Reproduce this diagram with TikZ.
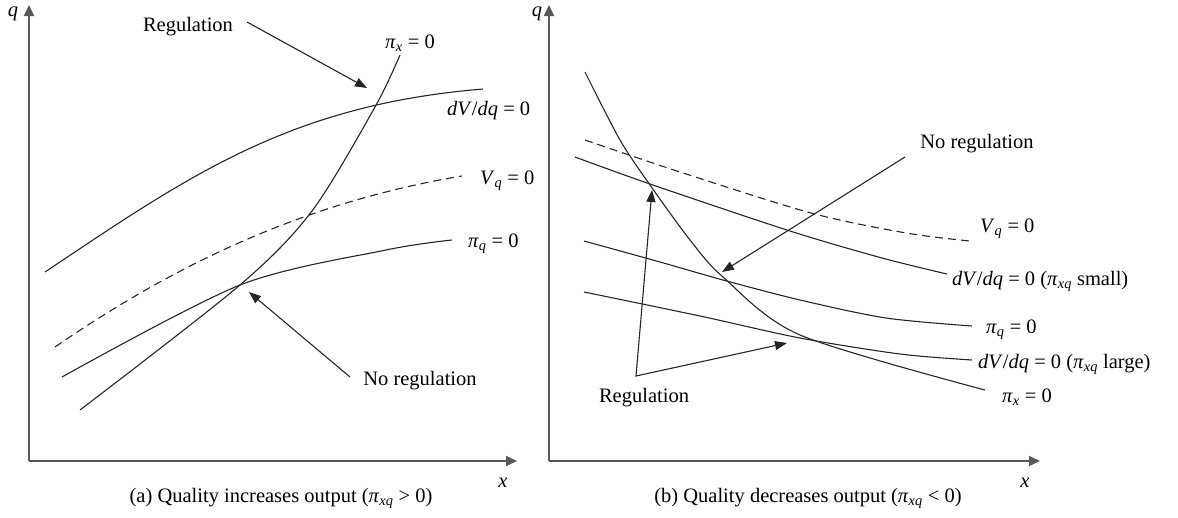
\documentclass[tikz,border=0pt]{standalone}
\usepackage{fontspec}
\setmainfont{Liberation Serif}
\usetikzlibrary{
  arrows.meta,%
  positioning
}
\tikzset{>={Triangle[length=12pt,width=9pt]}}
\tikzset{font=\fontsize{20.5}{23}\selectfont}
\tikzset{axis/.style={line width=1.8pt, black!65, ->, >={Triangle[length=11pt,width=10pt]}},
  curve/.style={line width=1.1pt, black!85},
  pointer/.style={line width=1.1pt, black!85, ->},
  lbl/.style={inner sep=0pt}}
\newcommand{\pisub}[1]{\textit{π}\textsubscript{\textit{#1}}}

\begin{document}
\begin{tikzpicture}[x=1pt, y=-1pt]
  \useasboundingbox (0,0) rectangle (1178,517);
  % (a) quality increases output
  \coordinate (oA) at (29,461);
  \coordinate (qA) at (29,5);
  \coordinate (xA) at (517,461);
  \draw[axis] (oA) -- (qA);
  \draw[axis] (oA) -- (xA);
  \node[lbl] (qlblA) at (13,14) {\textit{q}};
  \node[lbl] (xlblA) at (503,483) {\textit{x}};
  \draw[curve] (45,272) .. controls (190,175) and (290,105) .. (483,89);
  \draw[curve] plot[smooth] coordinates {(80,410) (240,285) (312,211) (375,107) (400,55)};
  \draw[curve, dash pattern=on 8pt off 5pt] (55,347) .. controls (170,268) and (300,203) .. (462,176);
  \draw[curve] plot[smooth] coordinates {(62,377) (240,285) (386,250) (452,240)};
  \node[lbl, anchor=west] (pxA) at (385,43) {\pisub{x} = 0};
  \node[lbl, anchor=west] (dvA) at (447,111) {\textit{dV}/\textit{dq} = 0};
  \node[lbl, anchor=west] (vqA) at (480,181) {\textit{V}\textsubscript{\textit{q}} = 0};
  \node[lbl, anchor=west] (pqA) at (468,244) {\pisub{q} = 0};
  \node[lbl] (regA) at (188,27) {Regulation};
  \node[lbl] (noregA) at (420,381) {No regulation};
  \coordinate (regAfrom) at (247,22);
  \coordinate (regAto) at (367,88);
  \coordinate (noregAfrom) at (350,377);
  \coordinate (noregAto) at (249,292);
  \draw[pointer] (regAfrom) -- (regAto);
  \draw[pointer] (noregAfrom) -- (noregAto);
  \node[lbl] (capA) at (281,498) {(a) Quality increases output (\pisub{xq} > 0)};

  % (b) quality decreases output
  \coordinate (oB) at (549,461);
  \coordinate (qB) at (549,5);
  \coordinate (xB) at (1040,461);
  \draw[axis] (oB) -- (qB);
  \draw[axis] (oB) -- (xB);
  \node[lbl] (qlblB) at (537,14) {\textit{q}};
  \node[lbl] (xlblB) at (1025,483) {\textit{x}};
  \draw[curve] plot[smooth] coordinates {(585,72) (620,140) (650,185) (690,240) (723,277) (800,335) (985,390)};
  \draw[curve, dash pattern=on 8pt off 5pt] plot[smooth] coordinates {(585,140) (680,172) (811,213) (906,233) (970,241)};
  \draw[curve] plot[smooth] coordinates {(575,157) (650,184) (790,231) (882,258) (947,274)};
  \draw[curve] plot[smooth] coordinates {(584,241) (660,262) (723,280) (800,300) (886,318) (972,326)};
  \draw[curve] plot[smooth] coordinates {(584,292) (700,316) (800,338) (900,354) (972,360)};
  \node[lbl, anchor=west] (vqB) at (980,229) {\textit{V}\textsubscript{\textit{q}} = 0};
  \node[lbl, anchor=west] (dvsB) at (952,281) {\textit{dV}/\textit{dq} = 0 (\pisub{xq} small)};
  \node[lbl, anchor=west] (pqB) at (986,330) {\pisub{q} = 0};
  \node[lbl, anchor=west] (dvlB) at (978,364) {\textit{dV}/\textit{dq} = 0 (\pisub{xq} large)};
  \node[lbl, anchor=west] (pxB) at (1002,397) {\pisub{x} = 0};
  \node[lbl] (noregB) at (977,144) {No regulation};
  \node[lbl] (regB) at (644,398) {Regulation};
  \coordinate (noregBfrom) at (905,157);
  \coordinate (noregBto) at (722,272);
  \coordinate (regBvertex) at (636,376);
  \coordinate (regBup) at (652,190);
  \coordinate (regBright) at (787,343);
  \draw[pointer] (noregBfrom) -- (noregBto);
  \draw[pointer, <->] (regBup) -- (regBvertex) -- (regBright);
  \node[lbl] (capB) at (808,498) {(b) Quality decreases output (\pisub{xq} < 0)};
\end{tikzpicture}
\end{document}
